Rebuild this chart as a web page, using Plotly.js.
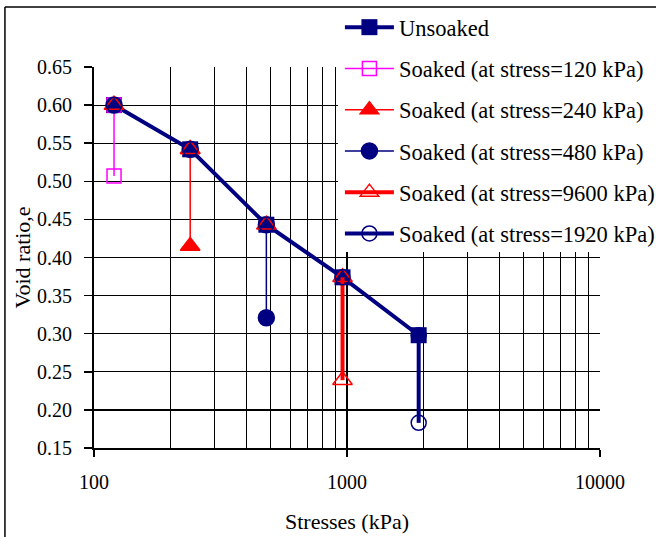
<!DOCTYPE html>
<html>
<head>
<meta charset="utf-8">
<script src="https://cdn.plot.ly/plotly-3.0.1.min.js"></script>
<style>
  html, body { margin: 0; padding: 0; background: #fff; }
  #chart { width: 656px; height: 537px; }
</style>
</head>
<body>
<div id="chart"></div>
<script>
// ---- data ----
const stresses = [120, 240, 480, 960, 1920];          // kPa
const unsoakedE = [0.600, 0.542, 0.443, 0.374, 0.298];  // void ratio, unsoaked
const soakedE = [0.507, 0.415, 0.321, 0.239, 0.183];    // void ratio after soaking at each stress
const seriesNames = [
  'Soaked (at stress=120 kPa)',
  'Soaked (at stress=240 kPa)',
  'Soaked (at stress=480 kPa)',
  'Soaked (at stress=9600 kPa)',
  'Soaked (at stress=1920 kPa)'
];
const xTickVals = [100, 1000, 10000];
const xTickText = ['100', '1000', '10000'];
const xMinorVals = [200, 300, 400, 500, 600, 700, 800, 900, 2000, 3000, 4000, 5000, 6000, 7000, 8000, 9000];

// ---- styles ----
const NAVY = '#000080', RED = '#FF0000', MAGENTA = '#FF00FF';
const soakStyles = [
  { color: MAGENTA, symbol: 'square-open', size: 14, lw: 1.5 },
  { color: RED, symbol: 'triangle-up', size: 17, lw: 1.5 },
  { color: NAVY, symbol: 'circle', size: 16, lw: 1.5 },
  { color: RED, symbol: 'triangle-up-open', size: 17, lw: 4 },
  { color: NAVY, symbol: 'circle-open', size: 15, lw: 4 }
];
const FONT = 'Liberation Serif, Times New Roman, serif';

const traces = [{
  type: 'scatter', mode: 'lines+markers', name: 'Unsoaked',
  x: stresses, y: unsoakedE, legendgroup: 'g0',
  line: { color: NAVY, width: 4 },
  marker: { symbol: 'square', size: 16, color: NAVY }
}];

seriesNames.forEach((name, k) => {
  const x = [], y = [];
  for (let i = 0; i < k; i++) { x.push(stresses[i], null); y.push(unsoakedE[i], null); }
  x.push(stresses[k], stresses[k]);
  y.push(unsoakedE[k], soakedE[k]);
  const s = soakStyles[k];
  traces.push({
    type: 'scatter', mode: 'lines+markers', name: name, x: x, y: y,
    connectgaps: false, legendgroup: 'g' + (k + 1),
    line: { color: s.color, width: s.lw },
    marker: { symbol: s.symbol, size: s.size, color: s.color, line: { color: s.color, width: 1.5 } }
  });
});

const layout = {
  width: 656, height: 537,
  margin: { l: 94, r: 56, t: 67, b: 89, autoexpand: false },
  paper_bgcolor: '#fff', plot_bgcolor: '#fff',
  font: { family: FONT, color: '#000', size: 20 },
  showlegend: true,
  hovermode: false,
  legend: {
    x: 0.486, xanchor: 'left', y: 1.160, yanchor: 'top',
    bgcolor: 'rgba(0,0,0,0)', borderwidth: 0,
    font: { family: FONT, size: 22.5, color: '#000' },
    itemwidth: 49, tracegroupgap: 9
  },
  xaxis: {
    type: 'log', range: [2, 4],
    tickmode: 'array', tickvals: xTickVals, ticktext: xTickText,
    ticks: 'outside', ticklen: 7, tickwidth: 1.5, tickcolor: '#000',
    ticklabelstandoff: 8,
    showgrid: true, gridcolor: '#000', gridwidth: 1.2,
    minor: { tickmode: 'array', tickvals: xMinorVals, showgrid: true, gridcolor: '#000', gridwidth: 1.2, ticks: '' },
    showline: true, linecolor: '#000', linewidth: 2,
    zeroline: false,
    tickfont: { family: FONT, size: 20, color: '#000' },
    title: { text: 'Stresses (kPa)', font: { family: FONT, size: 22, color: '#000' }, standoff: 22 }
  },
  yaxis: {
    range: [0.15, 0.65], dtick: 0.05, tick0: 0.15, tickformat: '.2f',
    ticks: 'outside', ticklen: 8, tickwidth: 1.5, tickcolor: '#000',
    ticklabelstandoff: 8,
    showgrid: true, gridcolor: '#000', gridwidth: 1.2,
    showline: true, linecolor: '#000', linewidth: 2,
    zeroline: false,
    tickfont: { family: FONT, size: 20, color: '#000' },
    title: { text: 'Void ratio,e', font: { family: FONT, size: 22, color: '#000' }, standoff: 0 }
  },
  shapes: [
    // white panel behind the legend (hides the gridlines there, as in the reference)
    { type: 'rect', xref: 'paper', yref: 'paper', x0: 0.482, x1: 1.2, y0: 0.5144, y1: 1.1535,
      fillcolor: '#fff', line: { width: 0 }, layer: 'above' },
    // outer chart frame
    { type: 'line', xref: 'paper', yref: 'paper', x0: -0.176, x1: 1.2, y0: 1.1575, y1: 1.1575, line: { color: '#000', width: 1.5 } },
    { type: 'line', xref: 'paper', yref: 'paper', x0: -0.176, x1: -0.176, y0: 1.1575, y1: -0.3, line: { color: '#000', width: 1.5 } }
  ]
};

Plotly.newPlot('chart', traces, layout, { staticPlot: true, displayModeBar: false });
</script>
</body>
</html>
